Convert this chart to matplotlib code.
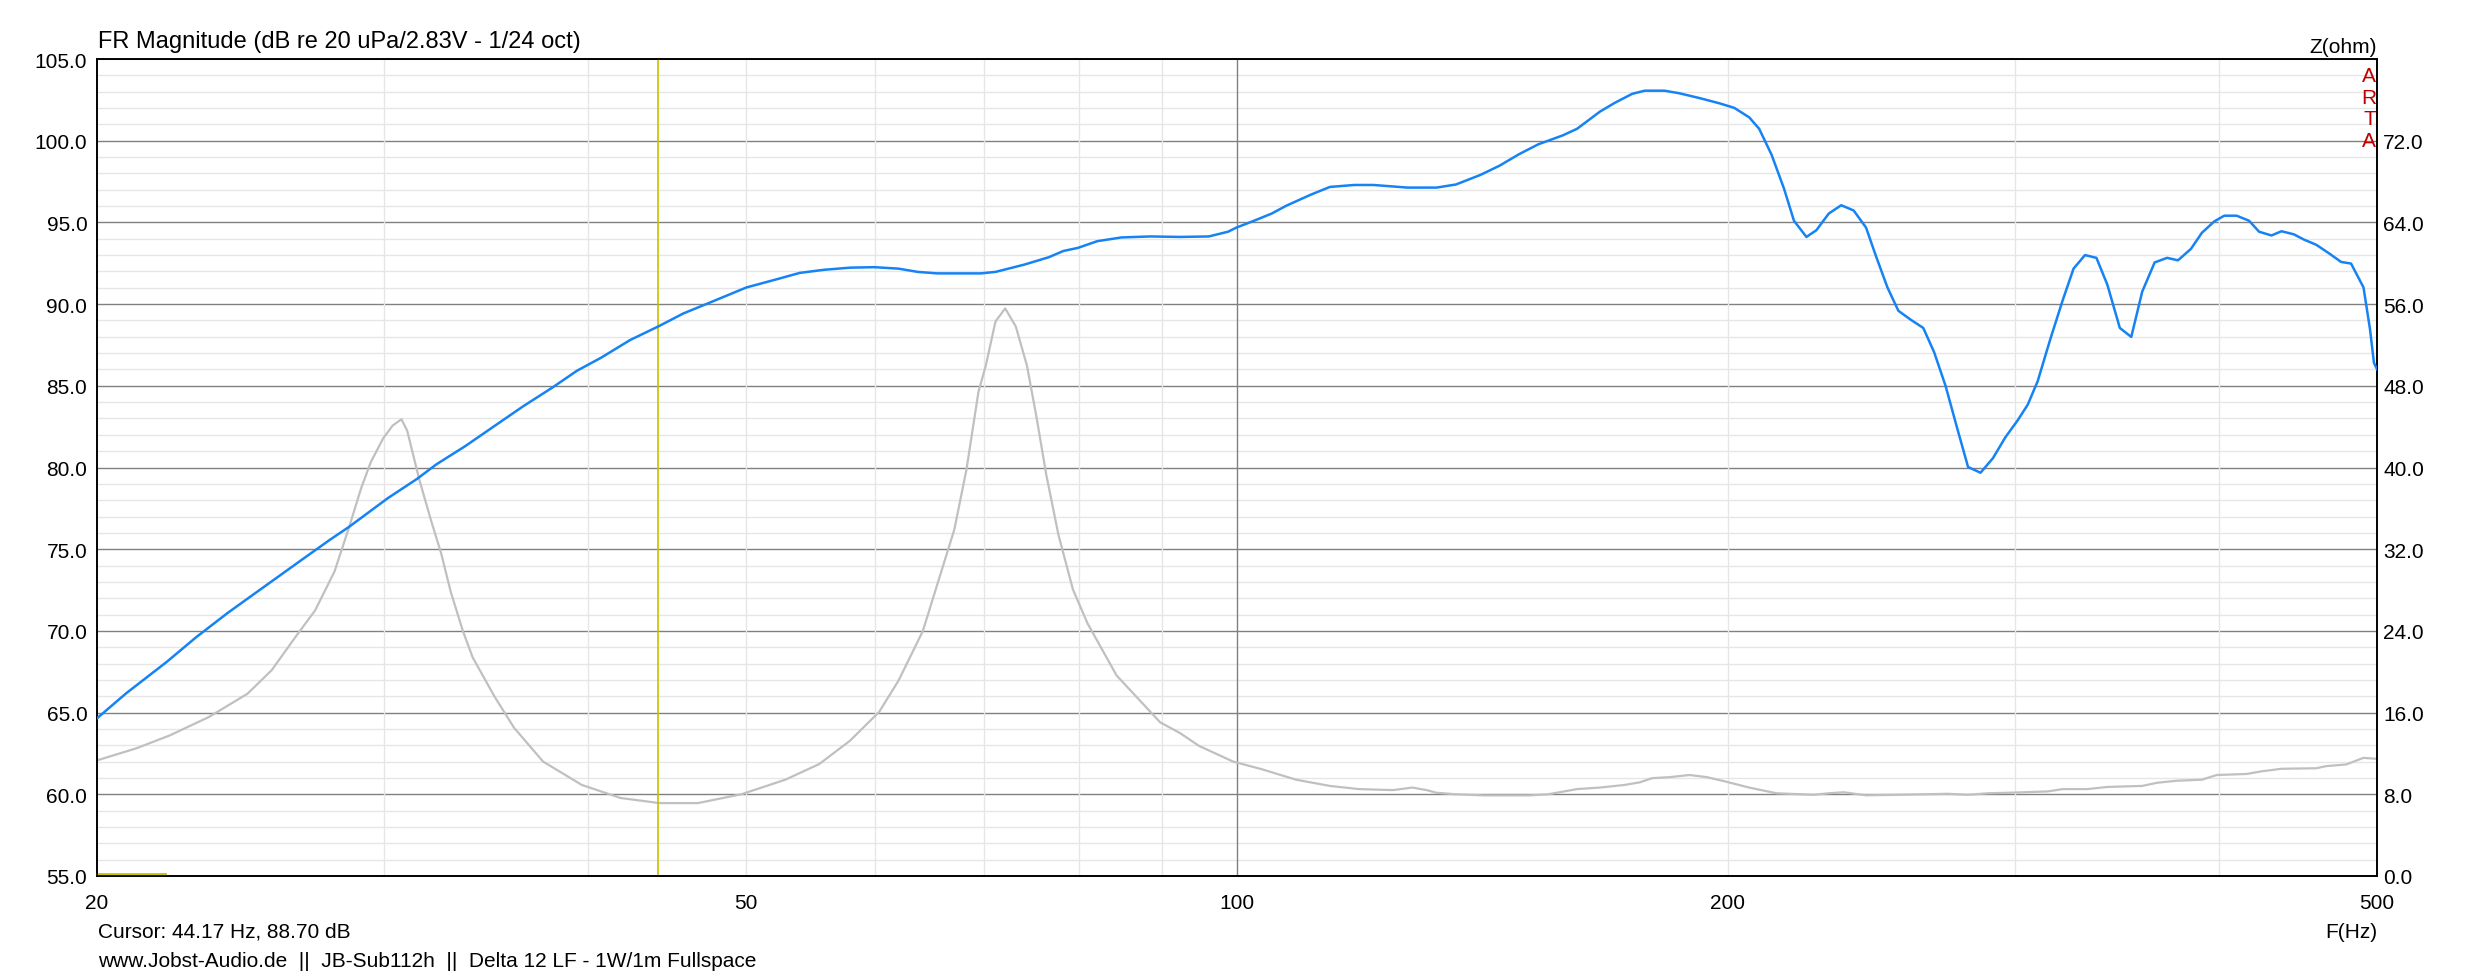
import numpy as np
import matplotlib
matplotlib.use('Agg')
import matplotlib.pyplot as plt
from matplotlib.ticker import FixedLocator, NullFormatter

plt.rcParams['font.family'] = ['Liberation Sans', 'DejaVu Sans']

# SPL curve (Hz, dB)
fr_freq = [20.0, 20.84, 22.06, 23.01, 24.06, 25.33, 26.66, 27.78, 28.55, 30.15,
           31.42, 32.29, 33.64, 35.29, 36.52, 38.05, 39.38, 40.75, 42.45, 44.17,
           45.77, 47.69, 50.03, 52.13, 53.94, 55.82, 57.91, 59.93, 62.01, 63.73,
           65.50, 69.66, 71.11, 74.08, 76.67, 78.26, 79.88, 82.09, 84.95, 88.51,
           92.22, 96.09, 98.75, 99.9, 102.19, 105.02, 107.20, 110.94, 114.01, 117.98,
           121.27, 127.22, 132.53, 136.22, 140.96, 144.87, 148.89, 153.02, 158.35, 161.63,
           166.93, 170.48, 174.73, 177.83, 182.89, 186.78, 192.10, 197.58, 201.78, 206.08,
           209.0, 212.70, 216.46, 219.53, 223.42, 226.58, 230.58, 234.67, 238.83, 243.05,
           246.49, 250.50, 254.40, 258.91, 263.50, 267.61, 271.97, 276.39, 280.70, 285.67,
           290.73, 295.88, 301.13, 305.39, 309.71, 315.20, 320.78, 325.77, 331.08, 336.47,
           341.71, 347.77, 353.43, 358.93, 365.29, 371.76, 377.54, 384.50, 390.45, 397.37,
           403.0, 410.14, 417.41, 423.31, 430.80, 436.91, 444.65, 450.94, 458.92, 467.04,
           475.32, 482.03, 490.57, 495.07, 497.86, 500.0]
fr_db = [64.65, 66.18, 68.09, 69.62, 71.11, 72.71, 74.30, 75.57, 76.37, 78.12,
         79.30, 80.19, 81.31, 82.74, 83.76, 84.90, 85.92, 86.72, 87.80, 88.63,
         89.43, 90.16, 91.02, 91.50, 91.91, 92.10, 92.23, 92.26, 92.17, 91.97,
         91.88, 91.88, 91.97, 92.42, 92.87, 93.25, 93.44, 93.85, 94.08, 94.14,
         94.11, 94.14, 94.43, 94.68, 95.06, 95.54, 96.02, 96.69, 97.17, 97.29,
         97.29, 97.13, 97.13, 97.32, 97.90, 98.47, 99.17, 99.78, 100.32, 100.73,
         101.78, 102.32, 102.87, 103.06, 103.06, 102.90, 102.61, 102.29, 102.01, 101.43,
         100.73, 99.14, 97.07, 95.10, 94.11, 94.52, 95.54, 96.05, 95.73, 94.68,
         92.93, 91.02, 89.59, 89.04, 88.54, 87.04, 84.97, 82.42, 80.03, 79.68,
         80.57, 81.85, 82.90, 83.85, 85.29, 87.83, 90.22, 92.17, 93.00, 92.83,
         91.18, 88.54, 87.99, 90.76, 92.55, 92.83, 92.68, 93.38, 94.36, 95.06,
         95.41, 95.41, 95.10, 94.43, 94.20, 94.46, 94.27, 93.95, 93.63, 93.12,
         92.58, 92.48, 91.02, 88.47, 86.40, 86.02]

# impedance curve (Hz, ohm)
z_freq = [20.0, 21.13, 22.16, 23.41, 24.73, 25.59, 26.48, 27.21, 27.97, 28.55,
          29.04, 29.44, 29.95, 30.36, 30.74, 30.99, 31.53, 32.07, 32.51, 32.96,
          33.53, 33.99, 35.05, 36.03, 37.54, 39.65, 41.88, 44.23, 46.72, 49.69,
          52.85, 55.44, 57.91, 60.34, 62.01, 64.17, 65.50, 67.09, 68.25, 69.42,
          70.14, 71.11, 72.09, 73.18, 74.34, 75.36, 76.40, 77.72, 79.33, 80.98,
          82.66, 84.37, 87.31, 89.73, 92.22, 94.78, 99.43, 103.59, 108.69, 114.01,
          118.79, 124.62, 128.07, 130.73, 132.53, 136.22, 141.93, 150.94, 155.13, 161.63,
          166.93, 172.90, 176.58, 179.70, 184.18, 189.43, 194.14, 198.97, 206.08, 214.19,
          225.77, 230.58, 235.50, 243.05, 254.40, 263.50, 272.91, 280.70, 288.69, 296.93,
          314.10, 320.78, 332.24, 341.71, 358.93, 366.56, 377.00, 390.45, 398.78, 415.94,
          424.81, 436.91, 458.92, 465.40, 478.67, 490.57, 500.0]
z_ohm = [11.32, 12.49, 13.76, 15.55, 17.84, 20.14, 23.45, 26.00, 29.83, 34.16,
         37.98, 40.54, 42.83, 44.11, 44.72, 43.60, 38.76, 34.68, 31.61, 27.79,
         23.96, 21.41, 17.59, 14.53, 11.21, 8.92, 7.64, 7.14, 7.14, 8.01,
         9.43, 10.96, 13.25, 16.07, 19.13, 23.97, 28.55, 33.91, 39.77, 47.42,
         49.97, 54.30, 55.58, 53.80, 49.97, 44.87, 39.26, 33.40, 28.04, 24.73,
         22.18, 19.63, 17.08, 15.04, 14.02, 12.74, 11.21, 10.45, 9.43, 8.82,
         8.51, 8.41, 8.66, 8.41, 8.15, 8.00, 7.89, 7.89, 8.00, 8.51,
         8.66, 8.92, 9.17, 9.58, 9.68, 9.89, 9.68, 9.28, 8.66, 8.10,
         7.95, 8.10, 8.20, 7.90, 7.95, 8.00, 8.05, 7.95, 8.10, 8.15,
         8.28, 8.51, 8.51, 8.72, 8.82, 9.13, 9.33, 9.43, 9.89, 9.99,
         10.25, 10.50, 10.55, 10.76, 10.92, 11.57, 11.47]

cursor_hz = 44.17
x_ticks = [20, 50, 100, 200, 500]
x_grid_minor = [30, 40, 50, 60, 70, 80, 90, 200, 300, 400]
x_grid_major = [100]
db_ticks = np.arange(55, 105.1, 5)
ohm_ticks = np.arange(0, 72.1, 8)

FS = 15
W, H = 2473, 978
fig = plt.figure(figsize=(W / 100, H / 100), dpi=100)
fig.patch.set_facecolor('white')
ax = fig.add_axes([97 / W, 1 - 877 / H, (2377 - 97) / W, (877 - 60) / H])
ax2 = ax.twinx()
ax.set_zorder(ax2.get_zorder() + 1)
ax.patch.set_visible(False)

# grid lives on the lower (impedance) axes
ax2.set_ylim(0, 80)
ax2.yaxis.set_major_locator(FixedLocator(ohm_ticks))
ax2.yaxis.set_minor_locator(FixedLocator(np.arange(0, 80.01, 1.6)))
ax2.yaxis.set_minor_formatter(NullFormatter())
ax2.set_yticklabels(['%.1f' % v for v in ohm_ticks])
ax2.set_axisbelow(True)
ax2.grid(True, which='major', axis='y', color='#808080', lw=1.0)
ax2.grid(True, which='minor', axis='y', color='#e6e6e6', lw=1.0)
for f in x_grid_minor:
    ax2.axvline(f, color='#e6e6e6', lw=1.0, zorder=0.6)
for f in x_grid_major:
    ax2.axvline(f, color='#808080', lw=1.0, zorder=0.6)

ax2.plot(z_freq, z_ohm, color='#c0c0c0', lw=1.6, zorder=2)

ax.set_xscale('log')
ax.set_xlim(20, 500)
ax.set_ylim(55, 105)
ax.set_xticks(x_ticks)
ax.set_xticklabels([str(v) for v in x_ticks])
ax.xaxis.set_minor_locator(FixedLocator([]))
ax.set_yticks(db_ticks)
ax.set_yticklabels(['%.1f' % v for v in db_ticks])

ax.axvline(cursor_hz, color='#c8c000', lw=1.2, zorder=1)
ax.plot([0, 0.03], [0.003, 0.003], transform=ax.transAxes, color='#c8c000', lw=2.0, clip_on=False)
ax.plot(fr_freq, fr_db, color='#1683f5', lw=1.8, zorder=3)

ax.tick_params(axis='both', which='both', length=0, labelsize=FS)
ax.tick_params(axis='y', pad=7)
ax.tick_params(axis='x', pad=12)
ax2.tick_params(axis='both', which='both', length=0, labelsize=FS, pad=4.5)
for a in (ax, ax2):
    for s in a.spines.values():
        s.set_color('black')
        s.set_linewidth(1.2)

# ARTA mark
for ch, yf in zip('ARTA', [0.9792, 0.9523, 0.9272, 0.9002]):
    ax.text(0.9996, yf, ch, transform=ax.transAxes, ha='right', va='center',
            color='#c00000', fontsize=FS)

fig.text(98 / W, 1 - 48 / H, 'FR Magnitude (dB re 20 uPa/2.83V - 1/24 oct)', fontsize=17,
         ha='left', va='baseline')
fig.text(2377 / W, 1 - 53 / H, 'Z(ohm)', fontsize=FS, ha='right', va='baseline')
fig.text(2377 / W, 1 - 933 / H, 'F(Hz)', fontsize=FS, ha='right', va='center')
fig.text(98 / W, 1 - 932 / H, 'Cursor: 44.17 Hz, 88.70 dB', fontsize=FS, ha='left', va='center')
fig.text(98 / W, 1 - 962 / H, 'www.Jobst-Audio.de  ||  JB-Sub112h  ||  Delta 12 LF - 1W/1m Fullspace',
         fontsize=FS, ha='left', va='center')

fig.savefig('out.png', dpi=100, facecolor='white')
